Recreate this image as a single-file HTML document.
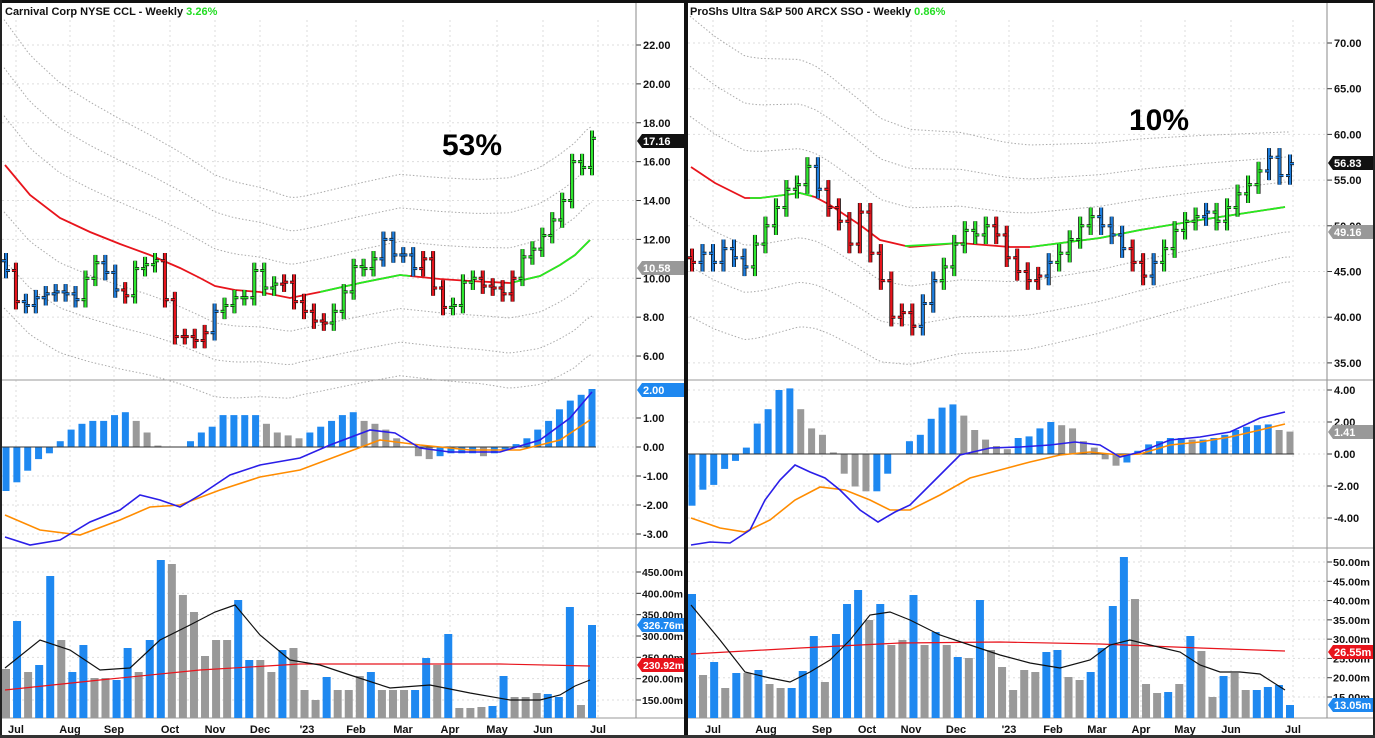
<!DOCTYPE html>
<html><head><meta charset="utf-8"><style>
html,body{margin:0;padding:0;background:#fff;}
svg{display:block;font-family:"Liberation Sans",Arial,sans-serif;}
</style></head><body>
<svg id="s" width="1375" height="738" xmlns="http://www.w3.org/2000/svg">
<rect width="1375" height="738" fill="#fff"/>
<g id="g"></g>
<text x="5" y="15" font-size="11" font-weight="bold" fill="#111">Carnival Corp  NYSE  CCL - Weekly <tspan fill="#22dd22">3.26%</tspan></text>
<text x="690" y="15" font-size="11" font-weight="bold" fill="#111">ProShs Ultra S&amp;P 500  ARCX  SSO - Weekly <tspan fill="#22dd22">0.86%</tspan></text>
<text x="442" y="155" font-size="30" font-weight="bold" fill="#000">53%</text>
<text x="1129" y="130" font-size="30" font-weight="bold" fill="#000">10%</text>
</svg>
<script>
var g=document.getElementById('g'),h='';
function L(x1,y1,x2,y2,c,w,d){h+='<line x1="'+x1+'" y1="'+y1+'" x2="'+x2+'" y2="'+y2+'" stroke="'+c+'" stroke-width="'+(w||1)+'"'+(d?' stroke-dasharray="'+d+'"':'')+'/>';}
function P(pts,c,w,d){h+='<polyline fill="none" points="'+pts.map(function(p){return p.join(',')}).join(' ')+'" stroke="'+c+'" stroke-width="'+(w||1.5)+'"'+(d?' stroke-dasharray="'+d+'"':'')+'/>';}
function T(x,y,t,s,c,a,ex){h+='<text x="'+x+'" y="'+y+'" font-size="'+(s||11)+'" fill="'+(c||'#111')+'"'+(a?' text-anchor="'+a+'"':'')+(ex||'')+' font-weight="bold">'+t+'</text>';}
function R(x,y,w,hh,c){h+='<rect x="'+x+'" y="'+y+'" width="'+w+'" height="'+hh+'" fill="'+c+'"/>';}
function tag(x,y,t,bg,fg){h+='<polygon points="'+x+','+y+' '+(x+5)+','+(y-7)+' '+(x+48)+','+(y-7)+' '+(x+48)+','+(y+7)+' '+(x+5)+','+(y+7)+'" fill="'+bg+'"/>';T(x+6,y+4,t,t.length>6?10:11,fg,null,t.length>6?' textLength="41" lengthAdjust="spacingAndGlyphs"':'');}
function interp(pts,x){for(var i=1;i<pts.length;i++){if(x<=pts[i][0]){var a=pts[i-1],b=pts[i];return a[1]+(b[1]-a[1])*(x-a[0])/(b[0]-a[0]);}}return pts[pts.length-1][1];}
var C={r:'#e8141c',g:'#2ee82e',b:'#1e7fe0'};
function chart(o){
 var X0=o.x0,AX=o.ax;
 o.months.forEach(function(m){L(m[1],20,m[1],718,'#ddd',1,'2,3');T(m[1],733,m[0],11,'#111','middle');});
 o.pt.forEach(function(t){var y=o.py(t);L(X0,y,AX,y,'#ddd',1,'2,3');L(AX,y,AX+5,y,'#333');T(AX+7,y+4,t.toFixed(2),11);});
 o.mt.forEach(function(t){var y=o.my(t);L(X0,y,AX,y,'#ddd',1,'2,3');L(AX,y,AX+5,y,'#333');T(AX+7,y+4,t.toFixed(2),11);});
 o.vt.forEach(function(t){var y=o.vy(t);L(X0,y,AX,y,'#ddd',1,'2,3');L(AX,y,AX+5,y,'#333');T(AX+6,y+4,t.toFixed(2)+'m',10.5,'#111',null,' textLength="'+(t>=100?41:37)+'" lengthAdjust="spacingAndGlyphs"');});
 L(AX,0,AX,718,'#888');L(X0,380,o.xe,380,'#999');L(X0,548,o.xe,548,'#999');L(X0,718,o.xe,718,'#999');
 var ma=o.ma;
 for(var k=-3;k<=3;k++){if(!k)continue;var pts=[];for(var x=X0+2;x<=o.bx;x+=6){pts.push([x,interp(ma,x)+k*interp(o.d,x)]);}P(pts,'#aaa',1,'1.5,2');}
 P(ma,'#e8141c',1.8);o.gs.forEach(function(s){P(s,'#22ee22',1.8);});
 var n=o.cl.length,sp=(o.bx-X0-4)/(n-1);
 for(var i=0;i<n;i++){var x=X0+4+i*sp,c=o.cl[i],op=i?o.cl[i-1]:c+0.5,hi=Math.max(op,c)+o.ex,lo=Math.min(op,c)-o.ex;
  var col=C[o.co[i]];
  L(x,o.py(hi),x,o.py(lo),'#111',4);L(x,o.py(hi),x,o.py(lo),col,2.4);
  L(x-4,o.py(op),x,o.py(op),'#111',3);L(x-4,o.py(op),x,o.py(op),col,1.5);
  L(x,o.py(c),x+4,o.py(c),'#111',3);L(x,o.py(c),x+4,o.py(c),col,1.5);}
 var m=o.mh,z=o.my(0),sp2=(o.bx-X0-4)/(m.length-1);
 for(var i=0;i<m.length;i++){var x=X0+4+i*sp2,y=o.my(m[i]),col=(i==0||m[i]>=m[i-1])?'#1e88f0':'#999';R(x-3.5,Math.min(y,z),7,Math.abs(y-z)+0.5,col);}
 L(X0,z,o.bx+4,z,'#333');
 P(o.mo,'#ff8c00',1.6);P(o.mb,'#2a1ee8',1.6);
 var v=o.vol,sp3=(o.bx-X0-4)/(v.length-1);
 for(var i=0;i<v.length;i++){var x=X0+4+i*sp3;R(x-4,v[i][0],8,718-v[i][0],v[i][1]=='b'?'#1e88f0':'#999');}
 P(o.vr,'#e8141c',1.2);P(o.vk,'#111',1.2);
 o.tags.forEach(function(t){tag(AX+1,t[0],t[1],t[2],t[3]);});
}
var lpy=function(p){return 45+(22-p)*19.44},lmy=function(v){return 447-v*29},lvy=function(v){return 700-(v-150)*0.4267};
chart({x0:2,ax:636,xe:684,bx:592,ex:0.4,py:lpy,my:lmy,vy:lvy,
 months:[['Jul',16],['Aug',70],['Sep',114],['Oct',170],['Nov',215],['Dec',260],["'23",307],['Feb',356],['Mar',403],['Apr',450],['May',497],['Jun',543],['Jul',598]],
 pt:[22,20,18,16,14,12,10,8,6],mt:[1,0,-1,-2,-3],vt:[450,400,350,300,250,200,150],
 ma:[[5,165],[30,195],[60,218],[90,232],[120,244],[150,255],[180,268],[200,278],[215,286],[235,290],[260,292],[290,298],[320,292],[360,283],[400,275],[410,276],[440,279],[470,281],[510,283],[540,276],[560,265],[575,255],[590,240]],
 gs:[[[320,292],[360,283],[400,275],[410,276]],[[510,283],[540,276],[560,265],[575,255],[590,240]]],
 d:[[5,48],[150,40],[300,33],[480,34],[590,38]],
 cl:[10.4,8.8,8.6,9.0,9.2,9.3,9.2,8.9,10.0,10.8,10.3,9.4,9.1,10.5,10.7,10.9,8.9,7.0,7.0,6.8,7.2,8.3,8.6,9.0,9.0,10.4,9.5,9.7,9.8,8.8,8.3,7.8,7.7,8.3,9.3,10.6,10.5,11.0,12.0,11.2,11.2,10.5,11.0,9.5,8.5,8.6,9.8,10.0,9.6,9.5,9.2,10.0,11.1,11.5,12.2,13.0,14.0,16.0,15.7,17.2],
 co:'brbbbbbbggbbrgggrrrrrbggggggrrrrrgggggbbbbrrrgggrrrrgggggggg',
 mh:[-1.5,-1.2,-0.8,-0.4,-0.2,0.2,0.6,0.8,0.9,0.9,1.1,1.2,0.9,0.5,0.05,0.0,0.0,0.2,0.5,0.7,1.1,1.1,1.1,1.1,0.8,0.5,0.4,0.3,0.5,0.7,0.9,1.1,1.2,0.9,0.8,0.6,0.3,0.0,-0.3,-0.4,-0.3,-0.2,-0.2,-0.2,-0.3,-0.2,-0.1,0.1,0.3,0.6,0.9,1.3,1.6,1.8,2.0],
 mb:[[5,537],[30,545],[60,540],[90,522],[120,510],[140,495],[160,500],[180,507],[200,495],[230,475],[260,465],[300,458],[330,445],[370,430],[395,433],[420,448],[450,452],[500,452],[540,440],[570,418],[592,392]],
 mo:[[5,515],[40,530],[80,535],[120,520],[150,507],[180,505],[220,490],[260,477],[300,470],[340,455],[380,440],[420,445],[470,450],[520,450],[560,440],[590,420]],
 vol:[[669,'g'],[621,'b'],[672,'g'],[665,'b'],[576,'b'],[640,'g'],[672,'b'],[645,'b'],[678,'g'],[678,'g'],[680,'b'],[648,'b'],[672,'g'],[640,'b'],[560,'b'],[564,'g'],[595,'g'],[612,'g'],[656,'g'],[640,'g'],[640,'g'],[600,'b'],[660,'b'],[660,'g'],[672,'g'],[650,'b'],[648,'g'],[690,'g'],[700,'g'],[677,'b'],[690,'g'],[690,'g'],[676,'g'],[672,'b'],[690,'g'],[690,'g'],[690,'g'],[690,'b'],[658,'b'],[665,'g'],[634,'b'],[708,'g'],[708,'g'],[707,'g'],[706,'b'],[676,'b'],[697,'g'],[697,'g'],[693,'g'],[694,'b'],[697,'b'],[607,'b'],[705,'g'],[625,'b']],
 vk:[[5,668],[40,640],[70,650],[100,670],[130,668],[160,640],[190,625],[215,612],[235,605],[260,635],[290,660],[320,665],[350,675],[390,688],[430,685],[470,693],[510,700],[540,700],[560,695],[575,686],[590,680]],
 vr:[[5,690],[100,680],[200,670],[300,664],[400,664],[500,664],[590,666]],
 tags:[[141,'17.16','#111','#fff'],[268,'10.58','#999','#fff'],[390,'2.00','#1e88f0','#fff'],[625,'326.76m','#1e88f0','#fff'],[665,'230.92m','#e8141c','#fff']]
});
var rpy=function(p){return 43+(70-p)*9.14},rmy=function(v){return 454-v*16},rvy=function(v){return 697-(v-15)*3.857};
chart({x0:688,ax:1327,xe:1375,bx:1290,ex:1.0,py:rpy,my:rmy,vy:rvy,
 months:[['Jul',713],['Aug',766],['Sep',822],['Oct',867],['Nov',911],['Dec',956],["'23",1009],['Feb',1053],['Mar',1097],['Apr',1141],['May',1185],['Jun',1231],['Jul',1293]],
 pt:[70,65,60,55,50,45,40,35],mt:[4,2,0,-2,-4],vt:[50,45,40,35,30,25,20,15],
 ma:[[691,167],[715,183],[745,198],[760,198],[800,193],[815,197],[830,205],[860,225],[880,240],[910,247],[960,243],[1010,247],[1030,247],[1100,238],[1140,230],[1200,220],[1285,207]],
 gs:[[[750,198],[760,198],[800,193],[812,196]],[[905,246],[960,243]],[[1030,247],[1100,238],[1140,230],[1200,220],[1285,207]]],
 d:[[691,50],[850,42],[1000,35],[1150,30],[1285,25]],
 cl:[46,47,46,47.5,46.5,45.5,48,50,52,54,54.5,56.5,54,52,50.5,48,51.5,47,44,40,40.5,39,41.5,44,45.5,48,49.5,49,50,49,46.5,45,44,44.5,46,47,48.5,50,51,50,49,47.5,46,44.5,46,47.5,49.5,50.5,51,51.5,50.5,52,53.5,54.5,56,57.5,55.5,56.8],
 co:'rbbbbbggggggbrrrrrrrrrbbgggggrrrrrbggggbbbrrbggggbgggggbbb',
 mh:[-3.2,-2.2,-1.9,-0.9,-0.4,0.4,1.9,2.8,4.0,4.1,2.8,1.6,1.2,0.1,-1.2,-2.0,-2.3,-2.3,-1.2,0,0.8,1.2,2.2,2.9,3.1,2.4,1.5,0.9,0.5,0.3,1.0,1.1,1.6,2.0,1.8,1.6,0.8,0.4,-0.3,-0.7,-0.5,0.2,0.6,0.8,1.0,1.0,0.9,0.9,1.0,1.2,1.5,1.7,1.8,1.85,1.5,1.4],
 mb:[[691,545],[710,542],[730,543],[750,530],[765,500],[780,480],[795,465],[810,472],[825,478],[840,490],[860,510],[878,522],[895,512],[910,505],[935,480],[960,455],[990,448],[1020,447],[1050,445],[1075,442],[1100,445],[1120,457],[1140,452],[1170,440],[1200,437],[1230,432],[1260,418],[1285,412]],
 mo:[[691,518],[720,528],[745,532],[770,520],[795,500],[820,487],[845,490],[870,500],[890,510],[910,510],[940,495],[970,478],[1000,470],[1030,462],[1060,455],[1090,452],[1120,455],[1140,454],[1170,445],[1200,442],[1230,437],[1260,430],[1285,424]],
 vol:[[594,'b'],[675,'g'],[662,'b'],[688,'g'],[673,'b'],[673,'g'],[670,'b'],[684,'g'],[688,'g'],[688,'b'],[671,'b'],[636,'b'],[682,'g'],[634,'b'],[604,'b'],[590,'b'],[620,'g'],[604,'b'],[645,'g'],[640,'g'],[595,'b'],[645,'g'],[632,'b'],[645,'g'],[657,'b'],[658,'g'],[600,'b'],[650,'g'],[667,'g'],[690,'g'],[670,'g'],[672,'g'],[652,'b'],[650,'b'],[677,'g'],[680,'g'],[672,'b'],[648,'b'],[606,'b'],[557,'b'],[599,'g'],[684,'g'],[693,'g'],[692,'b'],[684,'g'],[636,'b'],[651,'g'],[697,'g'],[676,'b'],[673,'g'],[690,'g'],[690,'b'],[687,'b'],[685,'b'],[705,'b']],
 vk:[[691,605],[720,640],[745,672],[770,678],[790,682],[810,672],[830,660],[850,640],[870,615],[890,612],[910,620],[940,635],[970,645],[1000,655],[1030,663],[1060,668],[1090,660],[1110,645],[1130,640],[1150,645],[1180,652],[1200,665],[1220,672],[1240,672],[1260,674],[1285,690]],
 vr:[[691,654],[800,648],[900,643],[1000,642],[1100,644],[1200,648],[1285,651]],
 tags:[[163,'56.83','#111','#fff'],[232,'49.16','#999','#fff'],[432,'1.41','#999','#fff'],[652,'26.55m','#e8141c','#fff'],[705,'13.05m','#1e88f0','#fff']]
});
R(0,0,1375,3,'#111');R(684,0,4,738,'#111');R(0,0,2,738,'#222');R(1373,0,2,738,'#222');R(0,735,1375,3,'#333');
g.innerHTML=h;
</script>
</body></html>
